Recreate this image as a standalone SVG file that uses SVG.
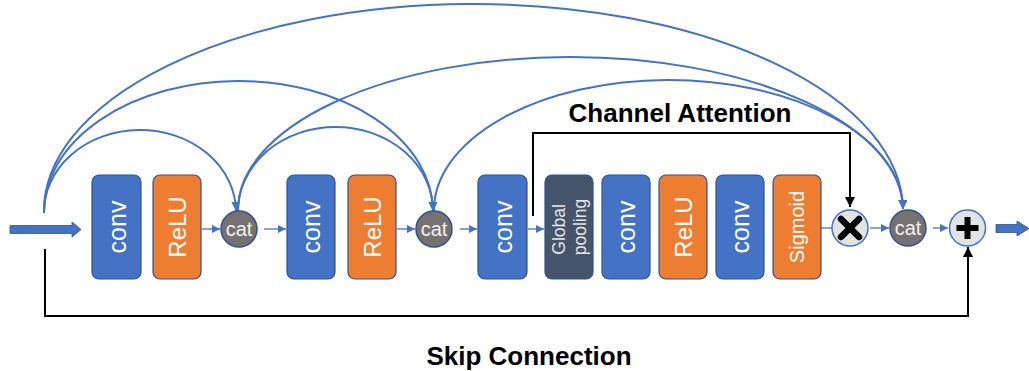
<svg xmlns="http://www.w3.org/2000/svg" width="1029" height="371" viewBox="0 0 1029 371">
  <style>
    .blk { stroke-width: 1.2; stroke: #2F528F; }
    .conv { fill: #4472C4; }
    .relu { fill: #ED7D31; }
    .pool { fill: #44546A; }
    .lbl { font-family: "Liberation Sans", Arial, sans-serif; fill: #FFFFFF; text-anchor: middle; dominant-baseline: central; }
    .cat { fill: #767171; stroke: #2F528F; stroke-width: 1.5; }
    .cattxt { font-family: "Liberation Sans", Arial, sans-serif; font-size: 20px; fill: #F2F2F2; text-anchor: middle; dominant-baseline: central; }
    .op { fill: #E3E3E3; stroke: #4472C4; stroke-width: 1.5; }
    .flow { fill: none; stroke: #4472C4; stroke-width: 1.3; }
    .arc { fill: none; stroke: #4472C4; stroke-width: 2; }
    .path { fill: none; stroke: #000000; stroke-width: 2; }
    .title { font-family: "Liberation Sans", Arial, sans-serif; font-weight: bold; font-size: 26px; fill: #000000; text-anchor: middle; }
  </style>
  <defs>
    <marker id="ah" viewBox="0 0 10 10" refX="10" refY="5" markerWidth="8" markerHeight="8" markerUnits="userSpaceOnUse" orient="auto">
      <path d="M0,0 L10,5 L0,10 z" fill="#4472C4"/>
    </marker>
    <marker id="ahArc" viewBox="0 0 10 10" refX="10" refY="5" markerWidth="10" markerHeight="9" markerUnits="userSpaceOnUse" orient="auto">
      <path d="M0,0 L10,5 L0,10 z" fill="#4472C4"/>
    </marker>
    <marker id="ahBlack" viewBox="0 0 10 10" refX="10" refY="5" markerWidth="10" markerHeight="10" markerUnits="userSpaceOnUse" orient="auto">
      <path d="M0,0 L10,5 L0,10 z" fill="#000000"/>
    </marker>
  </defs>

  <!-- connectors -->
  <g id="connectors">
    <!-- dense skip arcs -->
    <path class="arc" d="M44 213 A 96 82 0 0 1 236 211" marker-end="url(#ahArc)"/>
    <path class="arc" d="M44 213 A 194.5 131 0 0 1 433 211" marker-end="url(#ahArc)"/>
    <path class="arc" d="M44 213 A 429.5 207 0 0 1 903 209" marker-end="url(#ahArc)"/>
    <path class="arc" d="M238 211 A 97.5 84 0 0 1 433 211" marker-end="url(#ahArc)"/>
    <path class="arc" d="M238 211 A 332.5 153 0 0 1 903 209" marker-end="url(#ahArc)"/>
    <path class="arc" d="M434 211 A 234.5 130 0 0 1 903 209" marker-end="url(#ahArc)"/>

    <!-- main flow arrows -->
    <path class="flow" d="M202 229 H220" marker-end="url(#ah)"/>
    <path class="flow" d="M264 229 H286" marker-end="url(#ah)"/>
    <path class="flow" d="M397 229 H415" marker-end="url(#ah)"/>
    <path class="flow" d="M460 229 H477" marker-end="url(#ah)"/>
    <path class="flow" d="M528 229 H544" marker-end="url(#ah)"/>
    <path class="flow" d="M821 228 H832"/>
    <path class="flow" d="M870 228 H889" marker-end="url(#ah)"/>
    <path class="flow" d="M933 228 H948" marker-end="url(#ah)"/>

    <!-- input / output block arrows -->
    <path d="M10 225.5 H72 V222 L81 229.5 L72 237 V233.5 H10 z" fill="#4472C4" stroke="#2F528F" stroke-width="0.8"/>
    <path d="M996 224.5 H1017 V221 L1029 228.5 L1017 236 V232.5 H996 z" fill="#4472C4" stroke="#2F528F" stroke-width="0.8"/>

    <!-- channel attention branch -->
    <path class="path" d="M533 216 V133 H850 V207" marker-end="url(#ahBlack)"/>
    <!-- skip connection -->
    <path class="path" d="M45 249 V316 H968 V247" marker-end="url(#ahBlack)"/>
  </g>

  <!-- nodes -->
  <g id="conv1"><rect class="conv blk" x="92" y="175" width="49" height="104" rx="7"/><text class="lbl" font-size="25" transform="translate(116.5,227) rotate(-90)">conv</text></g>
  <g id="relu1"><rect class="relu blk" x="153" y="175" width="48" height="104" rx="7"/><text class="lbl" font-size="24" transform="translate(177,227) rotate(-90)">ReLU</text></g>
  <g id="cat1"><circle class="cat" cx="239" cy="229" r="18"/><text class="cattxt" x="239" y="229">cat</text></g>

  <g id="conv2"><rect class="conv blk" x="287" y="175" width="48" height="104" rx="7"/><text class="lbl" font-size="25" transform="translate(311,227) rotate(-90)">conv</text></g>
  <g id="relu2"><rect class="relu blk" x="348" y="175" width="48" height="104" rx="7"/><text class="lbl" font-size="24" transform="translate(372,227) rotate(-90)">ReLU</text></g>
  <g id="cat2"><circle class="cat" cx="434" cy="229" r="18"/><text class="cattxt" x="434" y="229">cat</text></g>

  <g id="conv3"><rect class="conv blk" x="478" y="175" width="49" height="104" rx="7"/><text class="lbl" font-size="25" transform="translate(502.5,227) rotate(-90)">conv</text></g>

  <g id="pool">
    <rect class="pool blk" x="545" y="175" width="48" height="104" rx="7"/>
    <text class="lbl" font-size="17.5" style="fill:#E6E6E6" transform="translate(569,227) rotate(-90)">
      <tspan x="0" y="-10">Global</tspan>
      <tspan x="0" y="11">pooling</tspan>
    </text>
  </g>
  <g id="conv4"><rect class="conv blk" x="602" y="175" width="48" height="104" rx="7"/><text class="lbl" font-size="25" transform="translate(626,227) rotate(-90)">conv</text></g>
  <g id="relu3"><rect class="relu blk" x="659" y="175" width="48" height="104" rx="7"/><text class="lbl" font-size="24" transform="translate(683,227) rotate(-90)">ReLU</text></g>
  <g id="conv5"><rect class="conv blk" x="716" y="175" width="48" height="104" rx="7"/><text class="lbl" font-size="25" transform="translate(740,227) rotate(-90)">conv</text></g>
  <g id="sigmoid"><rect class="relu blk" x="773" y="175" width="48" height="104" rx="7"/><text class="lbl" font-size="20" transform="translate(797,227) rotate(-90)">Sigmoid</text></g>

  <g id="mul">
    <circle class="op" cx="850" cy="228" r="18"/>
    <path d="M841 219 L859 237 M859 219 L841 237" stroke="#000000" stroke-width="6.5" stroke-linecap="round"/>
  </g>
  <g id="cat3"><circle class="cat" cx="908" cy="228" r="18"/><text class="cattxt" x="908" y="228">cat</text></g>
  <g id="add">
    <circle class="op" cx="967.5" cy="228" r="18"/>
    <path d="M967.5 217 V239 M956.5 228 H978.5" stroke="#000000" stroke-width="6"/>
  </g>

  <g id="labels">
    <text class="title" x="680" y="122">Channel Attention</text>
    <text class="title" x="529" y="365">Skip Connection</text>
  </g>
</svg>
